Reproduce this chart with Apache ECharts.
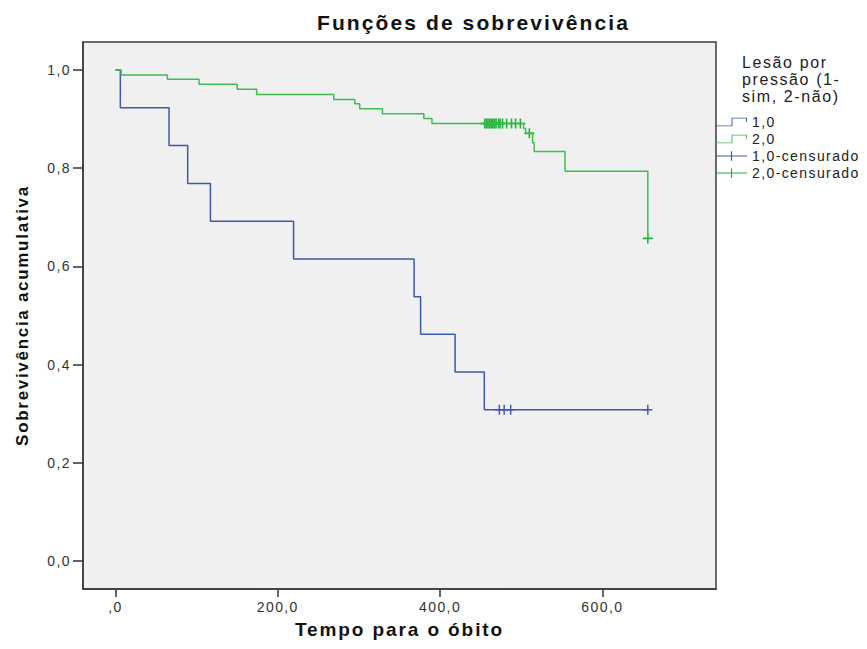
<!DOCTYPE html>
<html>
<head>
<meta charset="utf-8">
<script src="https://cdn.jsdelivr.net/npm/echarts@6/dist/echarts.min.js"></script>
<style>
  html, body { margin: 0; padding: 0; background: #fff; }
  #chart { width: 867px; height: 649px; }
  /* SPSS draws its text loosely spaced */
  #chart text { letter-spacing: 0.1em; }
</style>
</head>
<body>
<div id="chart"></div>
<script>
// grupo 1,0 (com lesão) - degraus de Kaplan-Meier
var blueTimes = [0, 6, 66, 89, 117, 219.5, 368, 376, 418.5, 454.5, 656];
var blueSurv = [1.0, 0.923, 0.846, 0.769, 0.692, 0.615, 0.538, 0.462, 0.385, 0.308, 0.308];
var blueCensTimes = [473, 479, 487, 656];
var blueCensSurv = [0.308, 0.308, 0.308, 0.308];

// grupo 2,0 (sem lesão)
var greenTimes = [0, 7, 64, 103, 150, 174, 269, 295, 301, 329, 380, 390, 503, 505.5, 514, 516, 554, 656];
var greenSurv = [1.0, 0.990, 0.981, 0.971, 0.961, 0.950, 0.940, 0.931, 0.921, 0.911, 0.901, 0.891, 0.881, 0.871, 0.852, 0.834, 0.794, 0.657];
var greenCensTimes = [455, 457, 459, 461, 463, 465, 467, 469, 472, 474, 477, 482, 488, 493, 499, 510, 656];
var greenCensSurv = [0.891, 0.891, 0.891, 0.891, 0.891, 0.891, 0.891, 0.891, 0.891, 0.891, 0.891, 0.891, 0.891, 0.891, 0.891, 0.871, 0.657];

var xTicks = [0, 200, 400, 600];
var xTickLabels = [',0', '200,0', '400,0', '600,0'];
var yTicks = [0, 0.2, 0.4, 0.6, 0.8, 1.0];
var yTickLabels = ['0,0', '0,2', '0,4', '0,6', '0,8', '1,0'];

var seriesNames = ['1,0', '2,0', '1,0-censurado', '2,0-censurado'];

function zip(a, b) {
  return a.map(function (v, i) { return [v, b[i]]; });
}

var BLUE = '#3e58ac';
var GREEN = '#3fbd4f';
var GREEN_MARK = '#22b03a';
var FRAME = '#3a3a3a';
var plusPath = 'path://M4.2,0H5.8V4.2H10V5.8H5.8V10H4.2V5.8H0V4.2H4.2Z';
var stepIcon = 'path://M0,8H16V0H32V4H31V1H17V9H0Z';
var censIcon = 'path://M0,4.4H15.4V0H16.6V4.4H32V5.6H16.6V10H15.4V5.6H0Z';
var font = '"Liberation Sans", Arial, sans-serif';

// minor ticks invisiveis: so para as marcas principais nao serem sincronizadas com os rotulos
var hiddenMinor = { show: true, length: 0, lineStyle: { color: 'rgba(0,0,0,0)', width: 0 } };

var chart = echarts.init(document.getElementById('chart'), null, { renderer: 'svg' });

var option = {
  animation: false,
  title: {
    text: 'Funções de sobrevivência',
    left: 317,
    top: 12,
    padding: 0,
    textStyle: { fontFamily: font, fontWeight: 'bold', fontSize: 21, color: '#111' }
  },
  graphic: [{
    type: 'text',
    left: 742,
    top: 54,
    style: {
      text: 'Lesão por\npressão (1-\nsim, 2-não)',
      align: 'center',
      font: '16px ' + font,
      lineHeight: 17,
      fill: '#222'
    }
  }],
  legend: {
    orient: 'vertical',
    left: 716,
    top: 115,
    padding: 0,
    itemGap: 3,
    itemWidth: 31,
    itemHeight: 10,
    itemStyle: { borderWidth: 0 },
    textStyle: { fontFamily: font, fontSize: 14, color: '#222', lineHeight: 14 },
    data: [
      { name: seriesNames[0], icon: stepIcon },
      { name: seriesNames[1], icon: stepIcon },
      { name: seriesNames[2], icon: censIcon },
      { name: seriesNames[3], icon: censIcon }
    ]
  },
  grid: {
    left: 83, top: 42, right: 151, bottom: 60,
    show: true,
    backgroundColor: '#f0f0f0',
    borderColor: FRAME,
    borderWidth: 1.5
  },
  xAxis: {
    type: 'value',
    min: -40, max: 740,
    name: 'Tempo para o óbito',
    nameLocation: 'middle',
    nameGap: 31,
    nameTextStyle: { fontFamily: font, fontWeight: 'bold', fontSize: 19, color: '#111' },
    splitLine: { show: false },
    minorTick: hiddenMinor,
    axisLine: { show: true, onZero: false, lineStyle: { color: FRAME, width: 1.5 } },
    axisTick: { show: true, length: 8, customValues: xTicks, lineStyle: { color: '#333', width: 1.5 } },
    axisLabel: {
      customValues: xTicks,
      margin: 11,
      fontFamily: font, fontSize: 14, color: '#333',
      formatter: function (v) { return xTickLabels[xTicks.indexOf(v)]; }
    }
  },
  yAxis: {
    type: 'value',
    min: -0.057, max: 1.057,
    name: 'Sobrevivência acumulativa',
    nameLocation: 'middle',
    nameGap: 52,
    nameTextStyle: { fontFamily: font, fontWeight: 'bold', fontSize: 17, color: '#111' },
    splitLine: { show: false },
    minorTick: hiddenMinor,
    axisLine: { show: true, onZero: false, lineStyle: { color: FRAME, width: 1.5 } },
    axisTick: { show: true, length: 10, customValues: yTicks, lineStyle: { color: '#333', width: 1.5 } },
    axisLabel: {
      customValues: yTicks,
      margin: 12,
      fontFamily: font, fontSize: 14, color: '#333',
      formatter: function (v) {
        var i = yTicks.findIndex(function (t) { return Math.abs(t - v) < 1e-6; });
        return yTickLabels[i];
      }
    }
  },
  series: [
    {
      name: seriesNames[0], type: 'line', step: 'end', color: BLUE,
      showSymbol: false, symbol: 'none',
      lineStyle: { width: 1.5, color: BLUE },
      data: zip(blueTimes, blueSurv)
    },
    {
      name: seriesNames[1], type: 'line', step: 'end', color: GREEN,
      showSymbol: false, symbol: 'none',
      lineStyle: { width: 1.5, color: GREEN },
      data: zip(greenTimes, greenSurv)
    },
    {
      name: seriesNames[2], type: 'scatter', color: BLUE,
      symbol: plusPath, symbolSize: [9, 10],
      itemStyle: { color: BLUE, opacity: 1 },
      data: zip(blueCensTimes, blueCensSurv)
    },
    {
      name: seriesNames[3], type: 'scatter', color: GREEN_MARK,
      symbol: plusPath, symbolSize: [10, 10],
      itemStyle: { color: GREEN_MARK, opacity: 1 },
      data: zip(greenCensTimes, greenCensSurv)
    }
  ]
};

chart.setOption(option);
</script>
</body>
</html>
